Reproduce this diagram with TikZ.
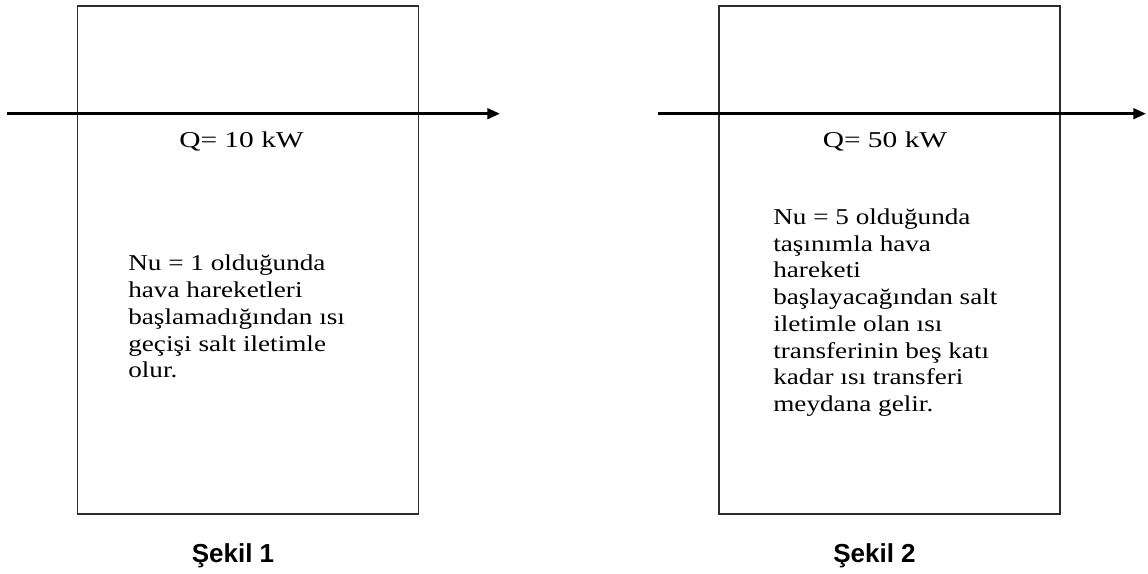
\documentclass[tikz,border=0pt]{standalone}
\usepackage{fontspec}
\setmainfont{Liberation Serif}
\newfontfamily\capfont{Liberation Sans}
\usetikzlibrary{arrows.meta,positioning}
\definecolor{wallgray}{RGB}{45,45,45}
\tikzset{
  frame/.style={draw=wallgray, line width=1.3pt, minimum width=8.52cm,
                minimum height=12.7cm, inner sep=0pt},
  heat/.style={-{Triangle[length=9pt, width=7.5pt]}, line width=2pt, black},
  qlab/.style={font=\fontsize{16.1}{19}\selectfont, xscale=1.3, inner sep=0pt, anchor=base},
  note/.style={font=\fontsize{16.1}{19}\selectfont, align=left, xscale=1.2,
               inner sep=0pt, anchor=north west},
  figcap/.style={font=\capfont\bfseries\fontsize{18.5}{22}\selectfont, inner sep=0pt, anchor=base},
}
\begin{document}
\begin{tikzpicture}[x=0.025cm, y=-0.025cm]
  \useasboundingbox (0,0) rectangle (1148,573);
  % Sekil 1
  \node[frame] (box1) at (248,260) {};
  \coordinate (in1) at (7,113.7);
  \coordinate (out1) at (500,113.7);
  \draw[heat] (in1) -- (out1);
  \node[qlab] (q1) at (241.5,147.8) {Q= 10 kW};
  \node[note] (nu1) at (128,255) {Nu = 1 olduğunda\\hava hareketleri\\başlamadığından ısı\\geçişi salt iletimle\\olur.};
  \node[figcap] (s1) at (233,562) {Şekil 1};
  % Sekil 2
  \node[frame] (box2) at (889.5,260) {};
  \coordinate (in2) at (658,113.7);
  \coordinate (out2) at (1146,113.7);
  \draw[heat] (in2) -- (out2);
  \node[qlab] (q2) at (885,147.8) {Q= 50 kW};
  \node[note] (nu2) at (773,208.5) {Nu = 5 olduğunda\\taşınımla hava\\hareketi\\başlayacağından salt\\iletimle olan ısı\\transferinin beş katı\\kadar ısı transferi\\meydana gelir.};
  \node[figcap] (s2) at (874.5,562) {Şekil 2};
\end{tikzpicture}
\end{document}
